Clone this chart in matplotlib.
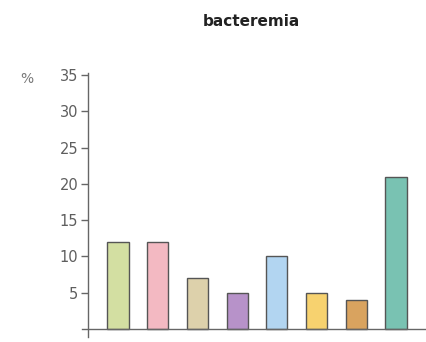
import matplotlib.pyplot as plt

# share of patients with bacteremia per group
groups = ["A", "B", "C", "D", "E", "F", "G", "H"]
values = [12, 12, 7, 5, 10, 5, 4, 21]
colors = ["#d3dfa2", "#f3b9c2", "#ddd1ab", "#b792c9", "#b2d5f1",
          "#f7d26f", "#d9a35f", "#79c2b2"]
yticks = [5, 10, 15, 20, 25, 30, 35]

fig = plt.figure(figsize=(4.27, 3.42), dpi=100)
ax = fig.add_axes([82 / 427, 5 / 342, 345 / 427, 264 / 342])

x = list(range(len(groups)))
ax.bar(x, values, width=0.53, color=colors, edgecolor="#555555", linewidth=1.0, zorder=2)

ax.set_xlim(-0.907, 7.78)
ax.set_ylim(-1.1, 35.3)

# axis lines: vertical one sits a little to the right of where the baseline starts
ax.spines["left"].set_position(("data", -0.756))
ax.spines["bottom"].set_position(("data", 0))
ax.spines["top"].set_visible(False)
ax.spines["right"].set_visible(False)
for s in ["left", "bottom"]:
    ax.spines[s].set_color("#666666")
    ax.spines[s].set_linewidth(1.0)

ax.set_xticks([])
ax.set_yticks(yticks)
ax.set_yticklabels([str(t) for t in yticks])
ax.tick_params(axis="y", direction="out", length=5, width=1.0, color="#666666",
               labelcolor="#5e5e5e", labelsize=10.5, pad=2)

fig.text(27 / 427, 1 - 79 / 342, "%", color="#777777", fontsize=10, ha="center", va="center")
fig.text(251 / 427, 1 - 21 / 342, "bacteremia", fontsize=11, fontweight="bold",
         ha="center", va="center", color="#222222")

plt.savefig("out.png", dpi=100)
